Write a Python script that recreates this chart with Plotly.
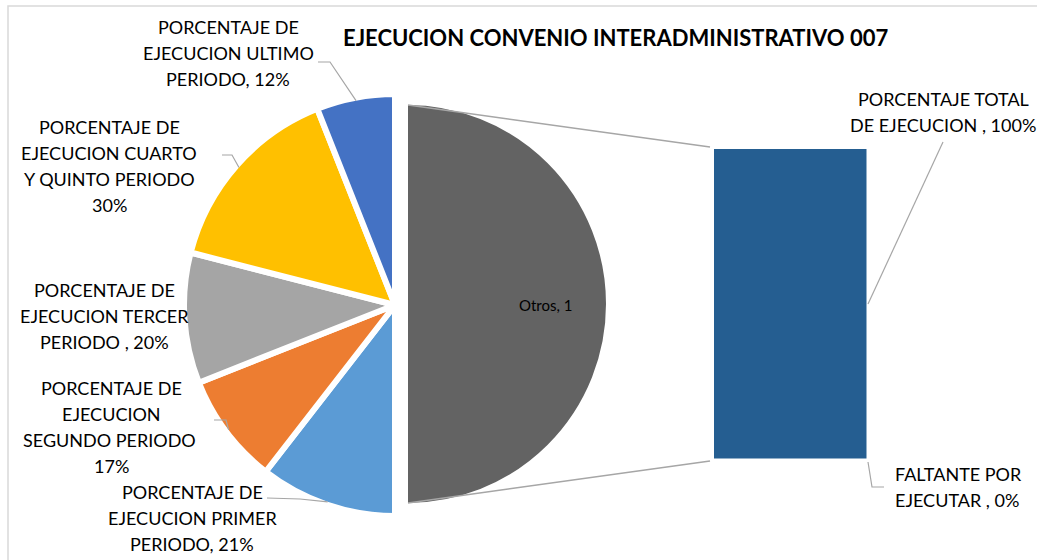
import math
import plotly.graph_objects as go

W, H = 1037, 560

# main pie (slices in drawing order, clockwise from 12 o'clock)
pie_labels = [
    "Otros",
    "PORCENTAJE DE EJECUCION PRIMER PERIODO",
    "PORCENTAJE DE EJECUCION SEGUNDO PERIODO ",
    "PORCENTAJE DE EJECUCION TERCER PERIODO ",
    "PORCENTAJE DE EJECUCION CUARTO Y QUINTO PERIODO",
    "PORCENTAJE DE EJECUCION ULTIMO PERIODO",
]
pie_colors = ["#636363", "#5B9BD5", "#ED7D31", "#A5A5A5", "#FFC000", "#4472C4"]

# secondary bar
bar_labels = ["PORCENTAJE TOTAL DE EJECUCION ", "FALTANTE POR EJECUTAR "]
bar_values = [1.00, 0.00]
bar_color = "#255E91"

main_values = [0.21, 0.17, 0.20, 0.30, 0.12]
pie_values = [sum(bar_values)] + main_values

title = "EJECUCION CONVENIO INTERADMINISTRATIVO 007"

# wrapped label text (where Excel breaks the lines)
wrapped = {
    pie_labels[1]: "PORCENTAJE DE<br>EJECUCION PRIMER<br>PERIODO",
    pie_labels[2]: "PORCENTAJE DE<br>EJECUCION<br>SEGUNDO PERIODO ",
    pie_labels[3]: "PORCENTAJE DE<br>EJECUCION TERCER<br>PERIODO ",
    pie_labels[4]: "PORCENTAJE DE<br>EJECUCION CUARTO<br>Y QUINTO PERIODO",
    pie_labels[5]: "PORCENTAJE DE<br>EJECUCION ULTIMO<br>PERIODO",
    bar_labels[0]: "PORCENTAJE TOTAL<br>DE EJECUCION ",
    bar_labels[1]: "FALTANTE POR<br>EJECUTAR ",
}
# the value of some labels sits on its own line
own_line = {pie_labels[2], pie_labels[4]}


def px(x):
    return x / W


def py(y):
    return 1 - y / H


FONT = "Lato, Carlito, Calibri, sans-serif"
GREY_LINE = "#A6A6A6"
LINE_H = 26.3  # Excel's line pitch for the data labels

# geometry (pixels)
A_CX, A_CY, A_R = 395, 305, 211      # left part of the pie
B_CX, B_CY, B_R = 407, 304, 200      # the "Otros" half
BAR_X0, BAR_X1, BAR_Y0, BAR_Y1 = 714, 867, 149, 459

fig = go.Figure()

transparent = "rgba(0,0,0,0)"
fig.add_trace(go.Pie(
    labels=pie_labels, values=pie_values, sort=False, direction="clockwise",
    rotation=0, textinfo="none", showlegend=False,
    marker=dict(colors=[transparent] + pie_colors[1:],
                line=dict(color=[transparent] + ["white"] * 5, width=6)),
    domain=dict(x=[px(A_CX - A_R), px(A_CX + A_R)],
                y=[py(A_CY + A_R), py(A_CY - A_R)]),
))
fig.add_trace(go.Pie(
    labels=pie_labels, values=pie_values, sort=False, direction="clockwise",
    rotation=0, textinfo="none", showlegend=False, hoverinfo="skip",
    marker=dict(colors=[pie_colors[0]] + [transparent] * 5,
                line=dict(color=["white"] + [transparent] * 5, width=2)),
    domain=dict(x=[px(B_CX - B_R), px(B_CX + B_R)],
                y=[py(B_CY + B_R), py(B_CY - B_R)]),
))

for name, val in zip(bar_labels, bar_values):
    fig.add_trace(go.Bar(
        x=[""], y=[val], name=name, width=1, showlegend=False,
        marker=dict(color=bar_color, line=dict(color="white", width=0.5)),
    ))

fig.update_layout(
    width=W, height=H, autosize=False,
    margin=dict(l=0, r=0, t=0, b=0),
    paper_bgcolor="white", plot_bgcolor="rgba(0,0,0,0)",
    barmode="stack", bargap=0,
    font=dict(family=FONT, size=18, color="#000000"),
    xaxis=dict(domain=[px(BAR_X0), px(BAR_X1)], range=[-0.5, 0.5], visible=False, fixedrange=True),
    yaxis=dict(domain=[py(BAR_Y1), py(BAR_Y0)], range=[0, sum(bar_values)], visible=False, fixedrange=True),
)

shapes = []
annotations = []


def add_label(text, x, y, anchor="center"):
    # one annotation per line so the line pitch matches Excel
    lines = text.split("<br>")
    n = len(lines)
    for i, line in enumerate(lines):
        annotations.append(dict(x=px(x), y=py(y + (i - (n - 1) / 2) * LINE_H),
                                xref="paper", yref="paper", text=line, showarrow=False,
                                xanchor=anchor, yanchor="middle"))


# chart border
shapes.append(dict(type="rect", xref="paper", yref="paper",
                   x0=px(8), y0=py(565), x1=px(1045), y1=py(6),
                   line=dict(color="#D9D9D9", width=1.5), layer="below"))

# connector lines from the "Otros" slice to the bar
shapes.append(dict(type="line", xref="paper", yref="paper",
                   x0=px(B_CX + 1), y0=py(B_CY - B_R + 1), x1=px(BAR_X0 - 4), y1=py(BAR_Y0 - 2),
                   line=dict(color=GREY_LINE, width=1.5)))
shapes.append(dict(type="line", xref="paper", yref="paper",
                   x0=px(B_CX + 1), y0=py(B_CY + B_R - 1), x1=px(BAR_X0 - 4), y1=py(BAR_Y1 + 2),
                   line=dict(color=GREY_LINE, width=1.5)))

# label positions (centre of the text block, pixels) and leader start points
label_pos = {
    pie_labels[1]: (192, 518),
    pie_labels[2]: (111, 427),
    pie_labels[3]: (104, 316),
    pie_labels[4]: (109, 166),
    pie_labels[5]: (228, 53),
}
leader_start = {
    pie_labels[1]: [(267, 498), (300, 499)],
    pie_labels[2]: [(214, 420), (226, 420)],
    pie_labels[4]: [(222, 155), (232, 155)],
    pie_labels[5]: [(318, 62), (330, 62)],
}

total = sum(pie_values)
cum = pie_values[0]
vis_r = A_R - 3
for name, val in zip(pie_labels[1:], main_values):
    mid = (cum + val / 2) / total * 2 * math.pi
    cum += val
    ex = A_CX + vis_r * math.sin(mid)
    ey = A_CY - vis_r * math.cos(mid)
    sep = "<br>" if name in own_line else ", "
    lx, ly = label_pos[name]
    add_label(f"{wrapped[name]}{sep}{val:.0%}", lx, ly)
    if name in leader_start:
        pts = leader_start[name] + [(ex, ey)]
        path = "M " + " L ".join(f"{px(x)},{py(y)}" for x, y in pts)
        shapes.append(dict(type="path", xref="paper", yref="paper", path=path,
                           line=dict(color=GREY_LINE, width=1.2)))

# "Otros" label inside the grey half
annotations.append(dict(x=px(545), y=py(305), xref="paper", yref="paper",
                        text=f"{pie_labels[0]}, {pie_values[0]:g}", showarrow=False,
                        font=dict(size=15, color="#000000")))

# bar labels
bar_mid_y = BAR_Y1 - (BAR_Y1 - BAR_Y0) * bar_values[0] / 2 / sum(bar_values)
add_label(f"{wrapped[bar_labels[0]]}, {bar_values[0]:.0%}", 943, 112)
shapes.append(dict(type="line", xref="paper", yref="paper",
                   x0=px(943), y0=py(142), x1=px(BAR_X1 + 1), y1=py(bar_mid_y),
                   line=dict(color=GREY_LINE, width=1.2)))
add_label(f"{wrapped[bar_labels[1]]}, {bar_values[1]:.0%}", 893, 487, anchor="left")
shapes.append(dict(type="path", xref="paper", yref="paper",
                   path=f"M {px(BAR_X1 + 1)},{py(BAR_Y1 + 3)} L {px(872)},{py(487)} L {px(884)},{py(487)}",
                   line=dict(color=GREY_LINE, width=1.2)))

# title
annotations.append(dict(x=px(615), y=py(38), xref="paper", yref="paper", text=f"<b>{title}</b>",
                        showarrow=False, xanchor="center", yanchor="middle",
                        font=dict(size=22, color="#000000")))

fig.update_layout(shapes=shapes, annotations=annotations)
fig.write_html("out.html", config={"displayModeBar": False},
               post_script="document.body.style.margin='0';document.body.style.overflow='hidden';")
